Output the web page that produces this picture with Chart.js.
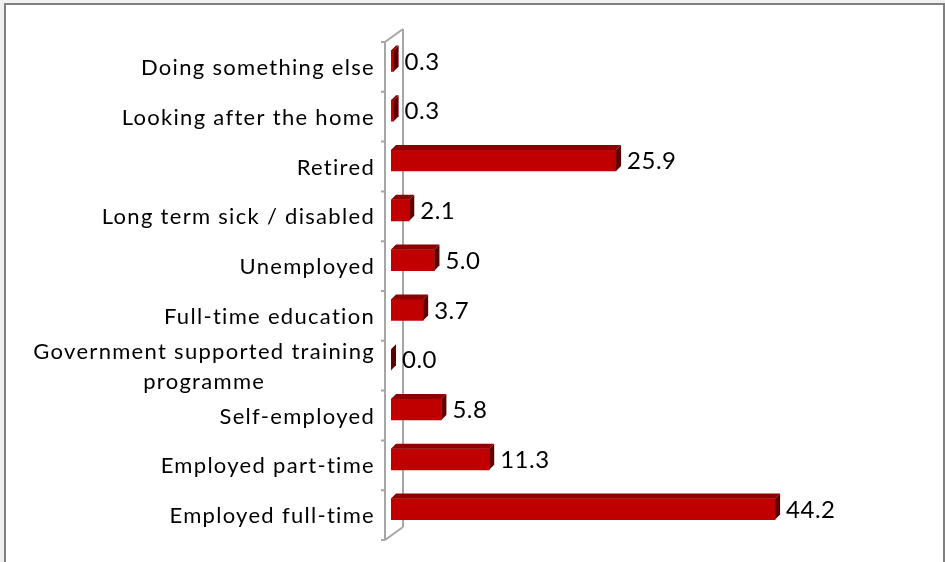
<!DOCTYPE html>
<html>
<head>
<meta charset="utf-8">
<script src="https://cdn.jsdelivr.net/npm/chart.js@4"></script>
<style>
  body { margin: 0; background: #f0f0f0; }
  #frame {
    position: absolute; left: 4px; top: 3px;
    width: 937px; height: 570px;
    border: 2px solid #808080; background: #fff;
  }
  canvas { display: block; }
</style>
</head>
<body>
<div id="frame"><canvas id="statusChart" width="937" height="557"></canvas></div>
<script>
// economic status, percent of respondents
const categories = [
  'Doing something else',
  'Looking after the home',
  'Retired',
  'Long term sick / disabled',
  'Unemployed',
  'Full-time education',
  ['Government supported training', 'programme'],
  'Self-employed',
  'Employed part-time',
  'Employed full-time'
];
const percentages = [0.3, 0.3, 25.9, 2.1, 5.0, 3.7, 0.0, 5.8, 11.3, 44.2];
const axisMax = 50;

const LABEL_FONT = '22px Lato';
const VALUE_FONT = '24px Lato';
const DEPTH = 5;

// fake 3D: wall behind the category axis, bar tops/sides, value labels
const bar3d = {
  id: 'bar3d',
  beforeDatasetsDraw(chart) {
    const { ctx, chartArea, scales } = chart;
    const base = scales.x.getPixelForValue(0);
    const fx = base - 6, bx = base + 12;
    const ft = chartArea.top + 6, fb = chartArea.bottom + 6;
    const bt = chartArea.top - 7, bb = chartArea.bottom - 7;
    ctx.save();
    ctx.strokeStyle = '#a6a6a6';
    ctx.lineWidth = 2;
    ctx.beginPath();
    ctx.moveTo(fx, ft); ctx.lineTo(fx, fb);
    ctx.moveTo(bx, bt); ctx.lineTo(bx, bb);
    ctx.moveTo(fx, ft); ctx.lineTo(bx, bt);
    ctx.moveTo(fx, fb); ctx.lineTo(bx, bb);
    const step = (fb - ft) / categories.length;
    for (let i = 0; i <= categories.length; i++) {
      const y = ft + i * step;
      ctx.moveTo(fx - 4, y); ctx.lineTo(fx, y);
    }
    ctx.stroke();

    // category labels, multi-line blocks centred on their widest line
    ctx.fillStyle = '#000';
    ctx.font = LABEL_FONT;
    ctx.letterSpacing = '1.3px';
    ctx.textBaseline = 'alphabetic';
    ctx.textAlign = 'center';
    const right = fx - 10;
    categories.forEach((label, i) => {
      const lines = Array.isArray(label) ? label : [label];
      const w = Math.max(...lines.map(l => ctx.measureText(l).width));
      const cy = scales.y.getPixelForValue(i) + 14;
      const lh = 30;
      lines.forEach((l, j) => {
        ctx.fillText(l, right - w / 2, cy + (j - (lines.length - 1) / 2) * lh);
      });
    });
    ctx.restore();
  },
  afterDatasetsDraw(chart) {
    const { ctx } = chart;
    const meta = chart.getDatasetMeta(0);
    ctx.save();
    meta.data.forEach((el, i) => {
      const { x, y, base, height } = el.getProps(['x', 'y', 'base', 'height'], true);
      const yt = y - height / 2, yb = y + height / 2;
      ctx.fillStyle = '#8e0000';
      ctx.beginPath();
      ctx.moveTo(base, yt); ctx.lineTo(base + DEPTH, yt - DEPTH);
      ctx.lineTo(x + DEPTH, yt - DEPTH); ctx.lineTo(x, yt);
      ctx.closePath(); ctx.fill();
      ctx.fillStyle = '#5e0000';
      ctx.beginPath();
      ctx.moveTo(x, yt); ctx.lineTo(x + DEPTH, yt - DEPTH);
      ctx.lineTo(x + DEPTH, yb - DEPTH); ctx.lineTo(x, yb);
      ctx.closePath(); ctx.fill();

      ctx.fillStyle = '#000';
      ctx.font = VALUE_FONT;
      ctx.letterSpacing = '0.5px';
      ctx.textAlign = 'left';
      ctx.textBaseline = 'middle';
      ctx.fillText(percentages[i].toFixed(1), x + DEPTH + 6, y + 1);
    });
    ctx.restore();
  }
};

new Chart(document.getElementById('statusChart'), {
  type: 'bar',
  data: {
    labels: categories,
    datasets: [{
      data: percentages,
      backgroundColor: '#c00000',
      borderWidth: 0,
      barThickness: 21
    }]
  },
  options: {
    indexAxis: 'y',
    responsive: false,
    animation: false,
    layout: { padding: { left: 385, right: 117.5, top: 31, bottom: 28 } },
    scales: {
      x: { display: false, min: 0, max: axisMax },
      y: { display: false }
    },
    plugins: { legend: { display: false }, tooltip: { enabled: false } }
  },
  plugins: [bar3d]
});
</script>
</body>
</html>
